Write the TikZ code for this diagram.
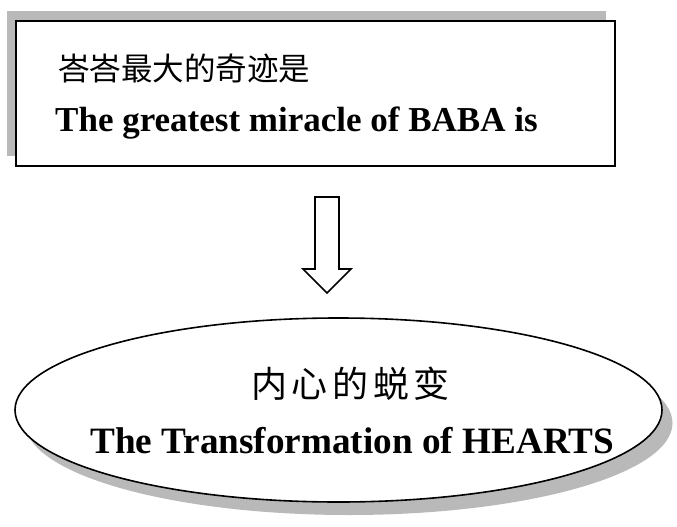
\documentclass[tikz,border=0pt]{standalone}
\usepackage{fontspec}
\setmainfont{Liberation Serif}
\newfontfamily\cjk{Noto Sans CJK SC}
\usetikzlibrary{shapes.geometric}

\begin{document}
\begin{tikzpicture}[x=1pt,y=-1pt,
      every node/.style={inner sep=0pt},
      shade/.style={fill=gray!55,draw=none},
      box/.style={draw,line width=1.8pt,fill=white,
        minimum width=599pt,minimum height=145pt},
      oval/.style={draw,ellipse,line width=1.6pt,fill=white,
        minimum width=647pt,minimum height=184pt},
      blockarrow/.style={draw,line width=1.6pt,fill=white,line join=miter},
      cntext/.style={anchor=west,font=\cjk},
      entext/.style={anchor=base west,font=\bfseries}]
  \useasboundingbox (0,0) rectangle (677,527);
  % upper box
  \fill[shade] (7,11) rectangle (606,156);
  \node[box,anchor=north west] (top) at (15,20) {};
  \node[cntext,font=\cjk\fontsize{31.5}{31.5}\selectfont]
    (topcn) at (58,68) {峇峇最大的奇迹是};
  \node[entext,font=\bfseries\fontsize{35}{35}\selectfont]
    (topen) at (55,131) {The greatest miracle of BABA is};
  % arrow
  \draw[blockarrow] (315,197) -- (339,197) -- (339,269) -- (351,269)
    -- (327,293) -- (303,269) -- (315,269) -- cycle;
  % lower oval
  \fill[shade] (349,423) ellipse [x radius=323.5,y radius=92];
  \node[oval] (heart) at (338.5,410) {};
  \node[cntext,font=\cjk\fontsize{36}{36}\selectfont\addfontfeature{LetterSpace=13}]
    (heartcn) at (251,384) {内心的蜕变};
  \node[entext,font=\bfseries\fontsize{37.2}{37.2}\selectfont]
    (hearten) at (90,453) {The Transformation of HEARTS};
\end{tikzpicture}
\end{document}
